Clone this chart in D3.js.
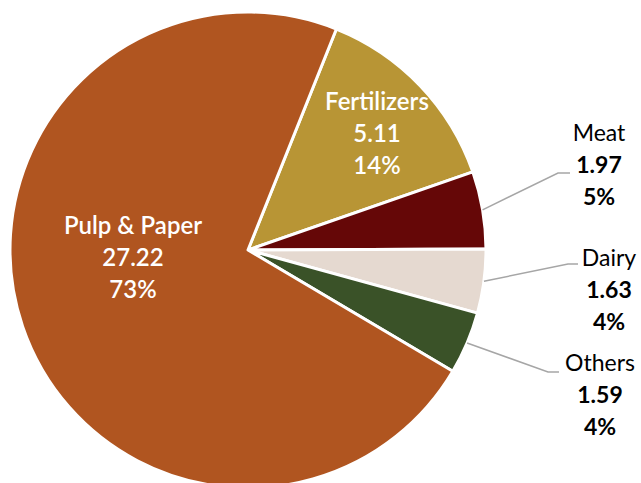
<!DOCTYPE html>
<html><head><meta charset="utf-8">
<script src="https://cdn.jsdelivr.net/npm/d3@7"></script>
<style>body{margin:0;background:#fff}svg{display:block}</style>
</head><body>
<svg id="c" width="641" height="483"></svg>
<script>
const categories = ["Fertilizers", "Meat", "Dairy", "Others", "Pulp & Paper"];
const values = [5.11, 1.97, 1.63, 1.59, 27.22];
const percentLabels = ["14%", "5%", "4%", "4%", "73%"];
const colors = ["#B89535", "#650707", "#E5D9D0", "#3A5228", "#B05520"];

const svg = d3.select("#c");
const cx = 248, cy = 250, r = 238;
const start = 21.8 * Math.PI / 180;
const pie = d3.pie().sort(null).value(d => d).startAngle(start).endAngle(start + 2 * Math.PI);
const arcs = pie(values);
const arc = d3.arc().innerRadius(0).outerRadius(r);
const g = svg.append("g").attr("transform", `translate(${cx},${cy})`);
g.selectAll("path").data(arcs).enter().append("path")
  .attr("d", arc).attr("fill", (d, i) => colors[i])
  .attr("stroke", "#fff").attr("stroke-width", 3).attr("stroke-linejoin", "round");

const font = "Lato, 'Open Sans', sans-serif";
// inside labels
const inside = [{i: 0, x: 377, y: 110}, {i: 4, x: 133, y: 234}];
inside.forEach(o => {
  const t = svg.append("text").attr("text-anchor", "middle").attr("font-family", font)
    .attr("font-size", 24).attr("font-weight", 600).attr("fill", "#fff");
  [categories[o.i], values[o.i].toFixed(2), percentLabels[o.i]].forEach((s, k) => {
    t.append("tspan").attr("x", o.x).attr("y", o.y + k * 32).text(s);
  });
});
// outside labels
const outside = [
  {i: 1, x: 599, y: 141, lx: 558, ly: 173, ex: 570},
  {i: 2, x: 609, y: 266, lx: 568, ly: 264, ex: 578},
  {i: 3, x: 600, y: 371, lx: 548, ly: 372, ex: 559}
];
outside.forEach(o => {
  const a = arcs[o.i];
  const mid = (a.startAngle + a.endAngle) / 2;
  const px = cx + r * Math.sin(mid), py = cy - r * Math.cos(mid);
  svg.append("polyline").attr("points", `${px},${py} ${o.lx},${o.ly} ${o.ex},${o.ly}`)
    .attr("fill", "none").attr("stroke", "#A6A6A6").attr("stroke-width", 1.5);
  const t = svg.append("text").attr("text-anchor", "middle").attr("font-family", font)
    .attr("font-size", 23).attr("fill", "#000");
  t.append("tspan").attr("x", o.x).attr("y", o.y).text(categories[o.i]);
  t.append("tspan").attr("x", o.x).attr("y", o.y + 32).attr("font-weight", 700).text(values[o.i].toFixed(2));
  t.append("tspan").attr("x", o.x).attr("y", o.y + 64).attr("font-weight", 700).text(percentLabels[o.i]);
});
</script>
</body></html>
